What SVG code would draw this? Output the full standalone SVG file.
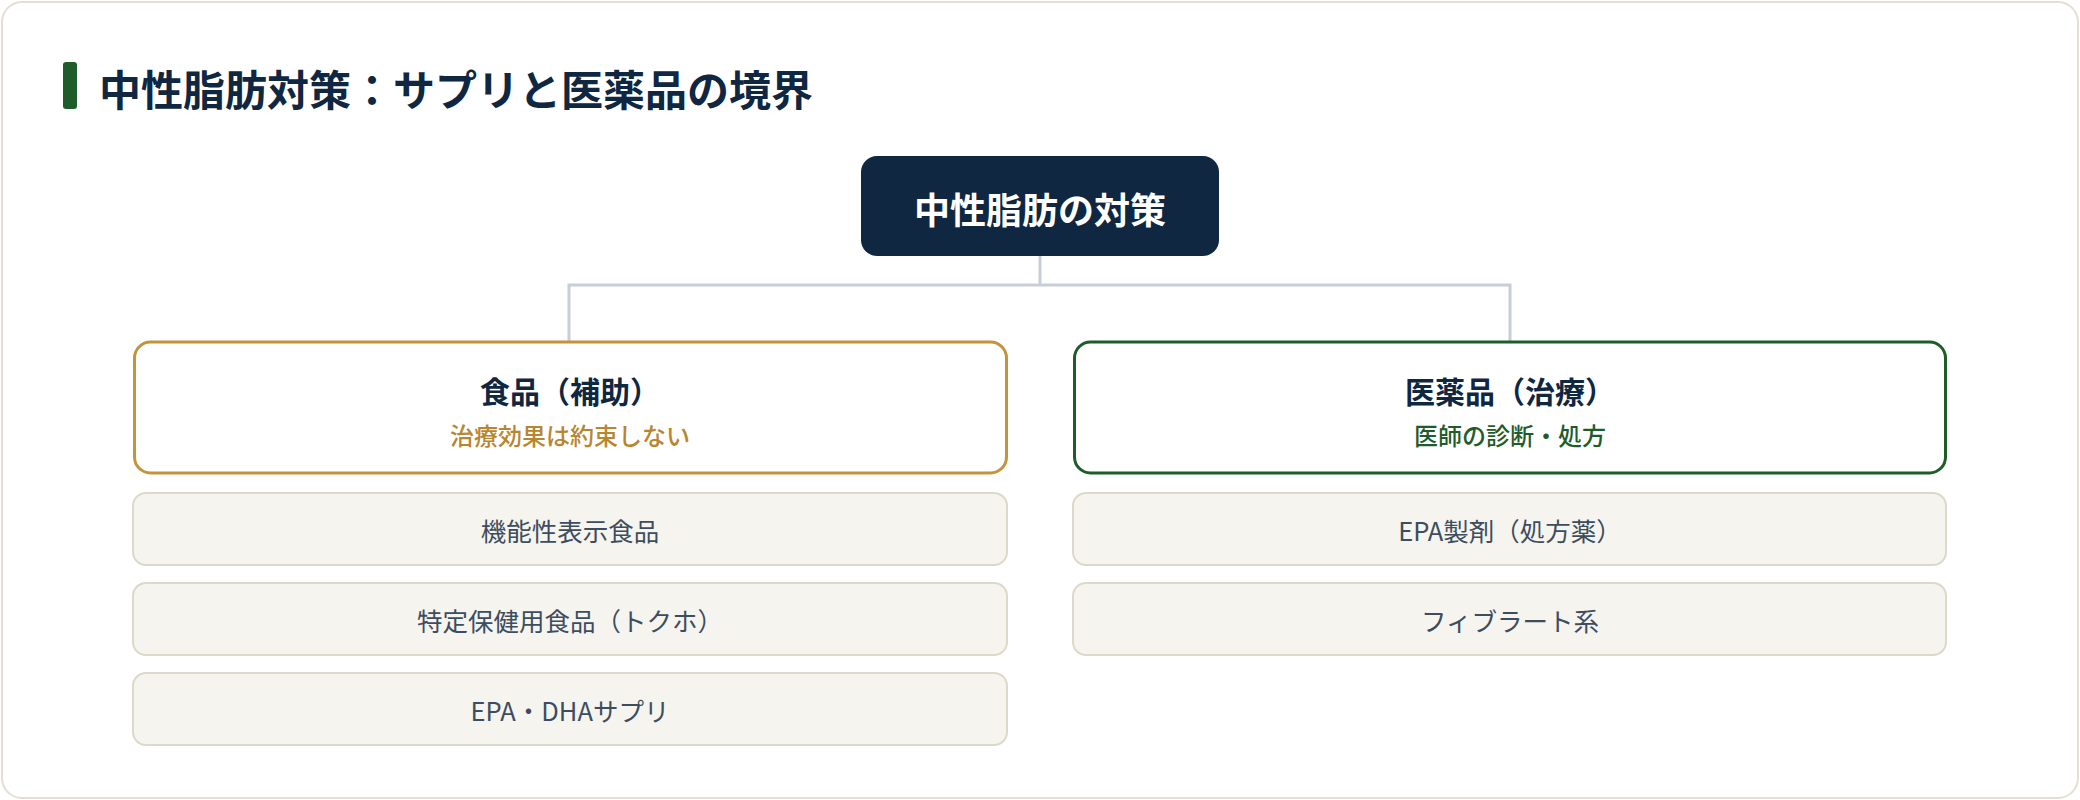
<svg xmlns="http://www.w3.org/2000/svg" width="2080" height="800" viewBox="0 0 2080 800">
<style>
text{font-family:"Noto Sans CJK JP","Noto Sans",sans-serif;text-anchor:middle;dominant-baseline:central}
.title{font-size:42px;font-weight:700;fill:#0f2741;text-anchor:start}
.root-t{font-size:36px;font-weight:700;fill:#ffffff}
.cat-t{font-size:30px;font-weight:700;fill:#0f2741}
.sub-gold{font-size:24px;font-weight:500;fill:#b8862f}
.sub-green{font-size:24px;font-weight:500;fill:#1e5c2a}
.item rect{fill:#f6f4ee;stroke:#dcd9ca;stroke-width:2}
.item text{font-size:25.5px;font-weight:400;fill:#3d4d60}
.conn{fill:none;stroke:#c8ced8;stroke-width:3}
</style>
<rect x="2" y="2" width="2076" height="796" rx="20" fill="#ffffff" stroke="#e3e0d3" stroke-width="2"/>
<g id="title">
<rect x="63" y="62" width="14" height="47" rx="3" fill="#1e5c2a"/>
<text class="title" x="99" y="87">中性脂肪対策：サプリと医薬品の境界</text>
</g>
<g id="connectors">
<path class="conn" d="M1040 256 V285 M569 341 V285 H1510 V341"/>
</g>
<g id="root">
<rect x="861" y="156" width="358" height="100" rx="16" fill="#0f2741"/>
<text class="root-t" x="1040" y="208">中性脂肪の対策</text>
</g>
<g id="food">
<rect x="134.5" y="342" width="872" height="131" rx="16" fill="#ffffff" stroke="#c4943a" stroke-width="3"/>
<text class="cat-t" x="570" y="390">食品（補助）</text>
<text class="sub-gold" x="570" y="434">治療効果は約束しない</text>
</g>
<g id="medicine">
<rect x="1074.5" y="342" width="871" height="131" rx="16" fill="#ffffff" stroke="#1e5c2a" stroke-width="3"/>
<text class="cat-t" x="1510" y="390">医薬品（治療）</text>
<text class="sub-green" x="1510" y="434">医師の診断・処方</text>
</g>
<g id="food-item1" class="item">
<rect x="133" y="493" width="874" height="72" rx="13"/>
<text x="570" y="529">機能性表示食品</text>
</g>
<g id="food-item2" class="item">
<rect x="133" y="583" width="874" height="72" rx="13"/>
<text x="570" y="619">特定保健用食品（トクホ）</text>
</g>
<g id="food-item3" class="item">
<rect x="133" y="673" width="874" height="72" rx="13"/>
<text x="570" y="709">EPA・DHAサプリ</text>
</g>
<g id="med-item1" class="item">
<rect x="1073" y="493" width="873" height="72" rx="13"/>
<text x="1510" y="529">EPA製剤（処方薬）</text>
</g>
<g id="med-item2" class="item">
<rect x="1073" y="583" width="873" height="72" rx="13"/>
<text x="1510" y="619">フィブラート系</text>
</g>
</svg>
